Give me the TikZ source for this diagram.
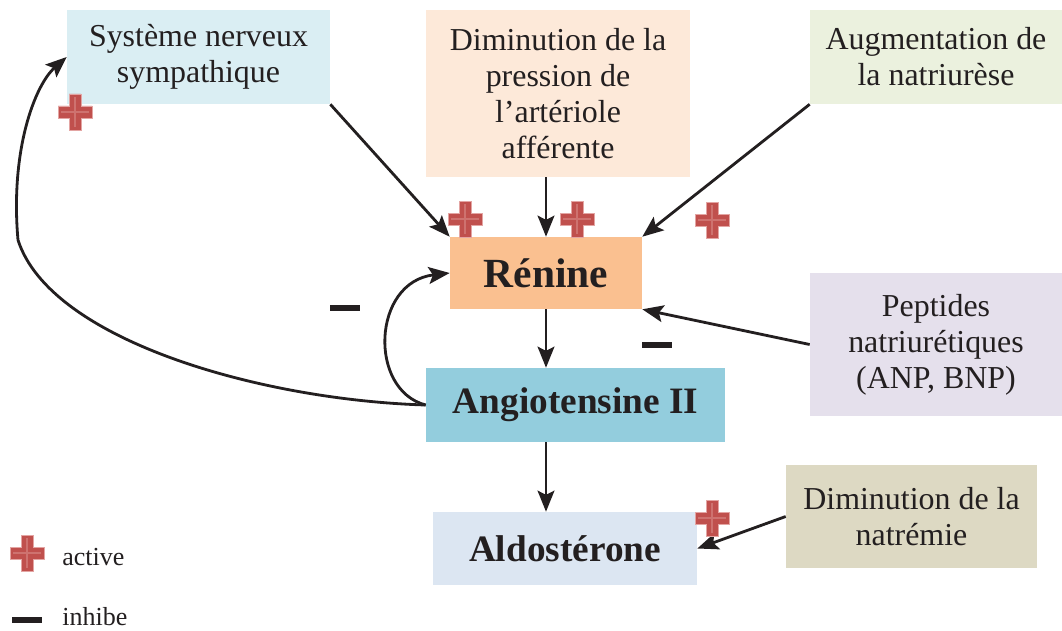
\documentclass[tikz,border=0pt]{standalone}
\usepackage{fontspec}
\setmainfont{Liberation Serif}
\usetikzlibrary{arrows.meta}

\definecolor{texte}{HTML}{231F20}
\definecolor{bleuclair}{HTML}{DAEEF3}
\definecolor{peche}{HTML}{FDE9D9}
\definecolor{vertclair}{HTML}{EBF1DE}
\definecolor{orangerenine}{HTML}{FAC090}
\definecolor{mauve}{HTML}{E5E0EC}
\definecolor{bleuangio}{HTML}{93CDDD}
\definecolor{beige}{HTML}{DDD9C3}
\definecolor{bleualdo}{HTML}{DCE6F2}
\definecolor{plusrouge}{HTML}{C0504D}
\definecolor{plusbord}{HTML}{E3A5A3}

% croix rouge "active", centre en pixels
\newcommand{\croix}[2]{%
  \fill[plusrouge, draw=plusbord, line width=0.5pt, shift={(#1,#2)}]
    (-6,-18) -- (6,-18) -- (6,-6) -- (17,-6) -- (17,6) -- (6,6) -- (6,18)
    -- (-6,18) -- (-6,6) -- (-17,6) -- (-17,-6) -- (-6,-6) -- cycle;
  \draw[plusbord, line width=1pt, opacity=0.4, shift={(#1,#2)}]
    (0,-15) -- (0,15) (-14,0) -- (14,0);
}
% trait "inhibe"
\newcommand{\trait}[2]{%
  \fill[texte, shift={(#1,#2)}] (-15,-3) rectangle (15,3);
}

\begin{document}
\begin{tikzpicture}[x=0.025cm, y=-0.025cm,
    box/.style={rectangle, inner sep=0pt, align=center, text=texte,
      font=\fontsize{22.7}{25.6}\selectfont},
    titre/.style={box, font=\bfseries\fontsize{26.5}{30}\selectfont},
    legende/.style={inner sep=0pt, text=texte, font=\fontsize{18.5}{22}\selectfont},
    fleche/.style={draw=texte, line width=2pt,
      -{Stealth[length=15pt,width=12pt,inset=3pt]}},
    flechev/.style={fleche, line width=1.6pt}]
  \useasboundingbox (0,0) rectangle (1062,630);

  % boites
  \node[box, fill=bleuclair, minimum width=6.575cm, minimum height=2.35cm]
    (symp) at (198.5,57) {Système nerveux\\sympathique};
  \node[box, fill=peche, minimum width=6.6cm, minimum height=4.175cm]
    (pression) at (558,93.5) {Diminution de la\\pression de\\l’artériole\\afférente};
  \node[box, fill=vertclair, minimum width=6.3cm, minimum height=2.35cm]
    (natriurese) at (936,57) {Augmentation de\\la natriurèse};
  \node[titre, fill=orangerenine, minimum width=4.8cm, minimum height=1.8cm,
    font=\bfseries\fontsize{29.5}{32}\selectfont]
    (renine) at (546,273) {Rénine};
  \node[box, fill=mauve, minimum width=6.3cm, minimum height=3.575cm]
    (peptides) at (936,344.5) {Peptides\\natriurétiques\\(ANP, BNP)};
  \node[titre, fill=bleuangio, minimum width=7.475cm, minimum height=1.85cm]
    (angio) at (575.5,405) {Angiotensine II};
  \node[box, fill=beige, minimum width=6.275cm, minimum height=2.575cm]
    (natremie) at (911.5,516.5) {Diminution de la\\natrémie};
  \node[titre, fill=bleualdo, minimum width=6.6cm, minimum height=1.825cm]
    (aldo) at (565,548.5) {Aldostérone};

  % fleches
  \draw[fleche] (symp.south east) -- (renine.north west);
  \draw[flechev] (renine.north |- pression.south) -- (renine.north);
  \draw[fleche] (natriurese.south west) -- (renine.north east);
  \draw[fleche] (peptides.west) -- (renine.south east);
  \draw[flechev] (renine.south) -- (renine.south |- angio.north);
  \draw[flechev] (renine.south |- angio.south) -- (renine.south |- aldo.north);
  \draw[fleche] (natremie.west) -- (aldo.east);
  \draw[fleche] (angio.west) .. controls (368,390) and (372,282) .. (renine.west);
  \draw[fleche] (angio.west) .. controls (260,400) and (50,340) .. (18,240)
    .. controls (10,150) and (35,85) .. (symp.west);

  % signes
  \croix{75}{112}
  \croix{465}{219}
  \croix{577}{219}
  \croix{712}{220}
  \croix{712}{518}
  \trait{345}{308}
  \trait{657}{345}

  % legende
  \croix{27}{553}
  \trait{27}{620}
  \node[legende, anchor=base west] (active) at (62,565) {active};
  \node[legende, anchor=base west] (inhibe) at (62,625) {inhibe};
\end{tikzpicture}
\end{document}
